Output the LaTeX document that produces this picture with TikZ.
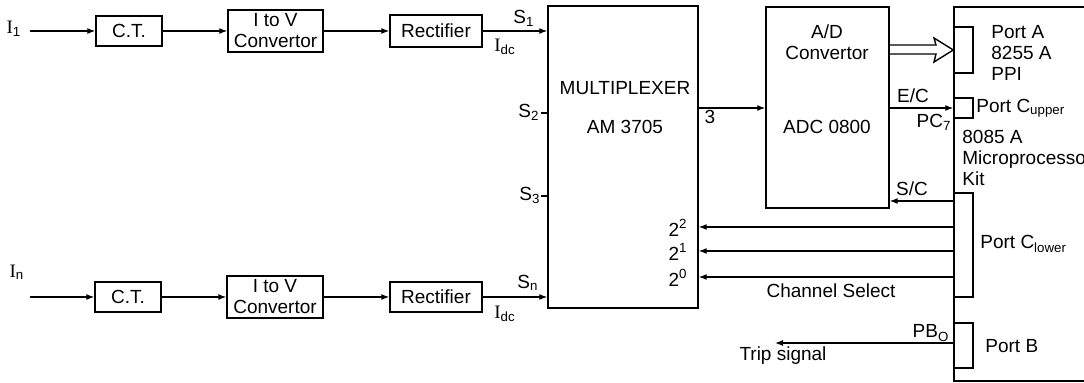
\documentclass[tikz,border=0pt]{standalone}
\usepackage{fontspec}
\setmainfont{Liberation Sans}
\newfontfamily\serifI{Liberation Serif}
\usetikzlibrary{arrows.meta}
\begin{document}
\begin{tikzpicture}[x=0.5pt,y=-0.5pt,
  font=\fontsize{9.5}{10.5}\selectfont,
  box/.style={draw, line width=0.7pt, inner sep=0pt, align=center, fill=white},
  arr/.style={line width=0.6pt, -{Latex[length=4pt,width=3pt]}},
  ln/.style={line width=0.6pt},
  lbl/.style={inner sep=0pt},
]
\useasboundingbox (0,0) rectangle (1084,383);
\clip (0,0) rectangle (1084,383);
% top chain
\node[box, minimum width=33pt, minimum height=15pt] (ct1) at (129,31) {C.T.};
\node[box, minimum width=47.5pt, minimum height=21pt] (iv1) at (275.5,31) {I to V\\Convertor};
\node[box, minimum width=46pt, minimum height=16pt] (rec1) at (436,31) {Rectifier};
% bottom chain
\node[box, minimum width=33pt, minimum height=15pt] (ct2) at (128,297) {C.T.};
\node[box, minimum width=48pt, minimum height=21pt] (iv2) at (275,297) {I to V\\Convertor};
\node[box, minimum width=46pt, minimum height=15pt] (rec2) at (436,297) {Rectifier};
% multiplexer and ADC
\node[box, minimum width=75pt, minimum height=151pt] (mux) at (623,157) {};
\node[box, minimum width=61.5pt, minimum height=100.5pt] (adc) at (827.5,107.5) {};
% kit
\node[box, minimum width=73pt, minimum height=187pt] (kit) at (1027,194) {};
\node[box, minimum width=9.5pt, minimum height=23pt] (portA) at (963.5,50) {};
\node[box, minimum width=9.5pt, minimum height=10pt] (portCu) at (963.5,108) {};
\node[box, minimum width=9.5pt, minimum height=52pt] (portCl) at (963.5,245) {};
\node[box, minimum width=9.5pt, minimum height=22.5pt] (portB) at (963.5,345.5) {};

% texts inside
\node[lbl] (muxt1) at (625,88) {MULTIPLEXER};
\node[lbl] (muxt2) at (625,127) {AM 3705};
\node[lbl, align=center] (adct1) at (827,42) {A/D\\Convertor};
\node[lbl] (adct2) at (827,127) {ADC 0800};
\node[lbl, align=left, anchor=north west] (pat) at (991,25) {Port A\\8255 A\\PPI};
\node[lbl, anchor=west] (pcut) at (976,108) {Port C\textsubscript{upper}};
\node[lbl, align=left, anchor=north west] (kitt) at (962,130) {8085 A\\Microprocessor\\Kit};
\node[lbl, anchor=west] (pclt) at (980,244) {Port C\textsubscript{lower}};
\node[lbl, anchor=west] (pbt) at (985,346) {Port B};

% input labels
\node[lbl] (i1) at (14,29) {{\serifI I}\textsubscript{1}};
\node[lbl] (in) at (17,272) {{\serifI I}\textsubscript{n}};
\coordinate (in1c) at (30,31);
\coordinate (innc) at (30,297);

% top chain connectors
\draw[arr] (in1c) -- (ct1);
\draw[arr] (ct1) -- (iv1);
\draw[arr] (iv1) -- (rec1);
\draw[arr] (rec1.east) -- (mux.west |- rec1.east);
\node[lbl] (s1) at (524,18) {S\textsubscript{1}};
\node[lbl] (idc1) at (505,47) {{\serifI I}\textsubscript{dc}};
% bottom chain connectors
\draw[arr] (innc) -- (ct2);
\draw[arr] (ct2) -- (iv2);
\draw[arr] (iv2) -- (rec2);
\draw[arr] (rec2.east) -- (mux.west |- rec2.east);
\node[lbl] (sn) at (528,283) {S\textsubscript{n}};
\node[lbl] (idc2) at (505,314) {{\serifI I}\textsubscript{dc}};
% S2, S3 ticks
\draw[ln] (541,113) -- (mux.west |- 0,113);
\node[lbl] (s2) at (529,112) {S\textsubscript{2}};
\draw[ln] (541,196) -- (mux.west |- 0,196);
\node[lbl] (s3) at (530,195) {S\textsubscript{3}};

% mux to adc
\draw[arr] (mux.east |- 0,108) -- (adc.west |- 0,108);
\node[lbl] (three) at (710,117) {3};

% adc to port A (hollow double arrow)
\draw[line width=0.7pt] (adc.east |- 0,45) -- (936,45) -- (934,38) -- (portA.west) -- (934,62) -- (936,54) -- (adc.east |- 0,54);

% E/C
\draw[arr] (adc.east |- portCu.west) -- (portCu.west);
\node[lbl] (ec) at (913,96) {E/C};
\node[lbl] (pc7) at (934,122) {PC\textsubscript{7}};
% S/C
\draw[arr] (kit.west |- 0,201) -- (adc.east |- 0,201);
\node[lbl] (sc) at (912,189) {S/C};

% channel select
\draw[arr] (kit.west |- 0,227) -- (mux.east |- 0,227);
\draw[arr] (kit.west |- 0,251) -- (mux.east |- 0,251);
\draw[arr] (kit.west |- 0,277) -- (mux.east |- 0,277);
\node[lbl] (b2) at (678,228) {2\textsuperscript{2}};
\node[lbl] (b1) at (678,252) {2\textsuperscript{1}};
\node[lbl] (b0) at (678,278) {2\textsuperscript{0}};
\node[lbl] (chs) at (831,291) {Channel Select};

% trip
\coordinate (trip) at (775,343);
\draw[arr] (kit.west |- trip) -- (trip);
\node[lbl] (pb0) at (931,333) {PB\textsubscript{O}};
\node[lbl] (trt) at (783,356) {Trip signal};
\end{tikzpicture}
\end{document}
